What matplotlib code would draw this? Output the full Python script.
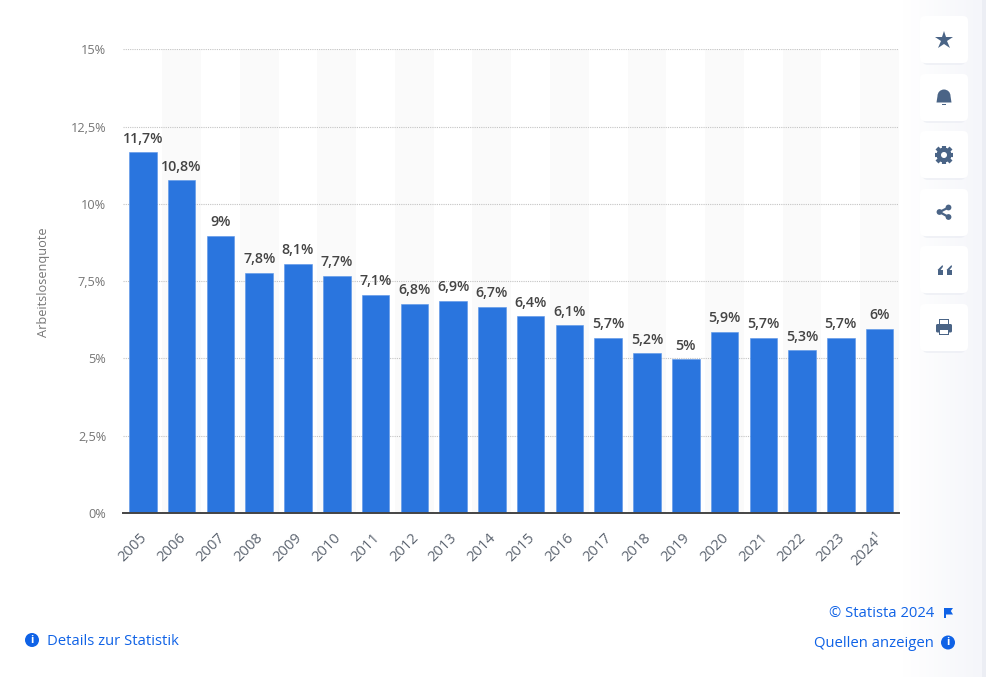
import numpy as np
import matplotlib
matplotlib.use("Agg")
import matplotlib.pyplot as plt
from matplotlib.patches import FancyBboxPatch, Circle, Rectangle, Polygon, Wedge
from matplotlib.transforms import ScaledTranslation

plt.rcParams['font.family'] = ['Open Sans', 'DejaVu Sans']

# data
years = ['2005', '2006', '2007', '2008', '2009', '2010', '2011', '2012', '2013', '2014',
         '2015', '2016', '2017', '2018', '2019', '2020', '2021', '2022', '2023', '2024¹']
quote = [11.7, 10.8, 9, 7.8, 8.1, 7.7, 7.1, 6.8, 6.9, 6.7,
         6.4, 6.1, 5.7, 5.2, 5, 5.9, 5.7, 5.3, 5.7, 6]
y_ticks = [0, 2.5, 5, 7.5, 10, 12.5, 15]

BLUE = '#2a75de'
LINK = '#0f62e6'
ICON = '#4a6486'
W, H = 987, 677


def de(v):
    return f'{v:g}'.replace('.', ',') + '%'


fig = plt.figure(figsize=(W / 100, H / 100), dpi=100, facecolor='white')

# background layer in pixel coordinates, for the side panel and footer
bg = fig.add_axes([0, 0, 1, 1], zorder=0)
grad = np.linspace(0, 1, 80).reshape(1, -1)
cmap = matplotlib.colors.LinearSegmentedColormap.from_list('p', ['#ffffff', '#f5f6fa'])
bg.imshow(grad, extent=[902, 982, H, 0], cmap=cmap, aspect='auto', zorder=1)
bg.add_patch(Rectangle((982, 0), 5, H, color='#eceef4', lw=0, zorder=1))
bg.set_xlim(0, W)
bg.set_ylim(H, 0)
bg.axis('off')

# main chart
ax = fig.add_axes([123.5 / W, (H - 513) / H, 775.5 / W, 463.6 / H], zorder=2)
ax.patch.set_alpha(0)
x = np.arange(len(years))
for i in x[1::2]:
    ax.axvspan(i - 0.5, i + 0.5, color='#fafafa', lw=0, zorder=0)
ax.yaxis.grid(True, linestyle=(0, (1, 1)), color='#c4c4c4', lw=0.8, zorder=1)
ax.set_axisbelow(True)
# the bars sit about a pixel under the grid in the original
bar_shift = ax.transData + ScaledTranslation(0, -1 / 100, fig.dpi_scale_trans)
ax.bar(x, quote, width=0.71, color=BLUE, edgecolor='#5b95e8', linewidth=0.4, zorder=2, transform=bar_shift)
for i, v in zip(x, quote):
    ax.annotate(de(v), (i, v), xytext=(0, 4), textcoords='offset points', ha='center', va='bottom',
                fontsize=10.3, fontweight='semibold', color='#444444', zorder=3)

ax.set_xlim(-0.5, len(years) - 0.5)
ax.set_ylim(0, 15)
ax.set_yticks(y_ticks)
ax.set_yticklabels([de(t) for t in y_ticks], fontsize=9.2, color='#767676')
ax.set_xticks(x)
ax.set_xticklabels([])
# tick labels placed by hand, they start a little left of the tick in the original
for i, year in zip(x, years):
    ax.annotate(year, (i, 0), xycoords=ax.get_xaxis_transform(), xytext=(-2.5, -12.5), textcoords='offset points',
                rotation=45, ha='right', va='top', rotation_mode='anchor', fontsize=10.6, color='#5c6470',
                annotation_clip=False)
ax.tick_params(axis='both', length=0)
ax.tick_params(axis='y', pad=12.5)
for s in ['top', 'right', 'left']:
    ax.spines[s].set_visible(False)
ax.spines['bottom'].set_color('#444444')
ax.spines['bottom'].set_linewidth(1.4)
ax.spines['bottom'].set_zorder(4)
ax.set_ylabel('Arbeitslosenquote', fontsize=9.2, color='#767676')
ax.yaxis.set_label_coords((50 - 123.5) / 775.5, 0.498)

# overlay for buttons, icons and links
ov = fig.add_axes([0, 0, 1, 1], zorder=3)
ov.set_xlim(0, W)
ov.set_ylim(H, 0)
ov.axis('off')

for top in [16, 74, 131, 189, 246, 304]:
    ov.add_patch(FancyBboxPatch((922, top + 4), 44, 45, boxstyle='round,pad=0,rounding_size=6',
                                fc='#eceef4', ec='none', alpha=0.7, zorder=1))
    ov.add_patch(FancyBboxPatch((920, top), 48, 47, boxstyle='round,pad=0,rounding_size=5',
                                fc='white', ec='none', zorder=2))

# star
ov.plot(944, 40, marker='*', ms=13.5, color=ICON, mew=0, zorder=3)
# bell
ov.add_patch(Wedge((944, 96), 6.5, 180, 360, fc=ICON, lw=0, zorder=3))
ov.add_patch(Polygon([(937.5, 96), (950.5, 96), (951.5, 102.5), (936.5, 102.5)], fc=ICON, lw=0, zorder=3))
ov.add_patch(Rectangle((942, 103.5), 4, 1.2, fc=ICON, lw=0, zorder=3))
# gear
ov.plot(944, 155, marker='8', ms=11.5, color=ICON, mew=0, zorder=3)
ov.plot(944, 155, marker='+', ms=12.5, color=ICON, mew=3, zorder=3)
ov.plot(944, 155, marker='x', ms=9.5, color=ICON, mew=3, zorder=3)
ov.add_patch(Circle((944, 155), 3, fc='white', lw=0, zorder=4))
# share
ov.plot([948.5, 939.5, 948.5], [207.5, 212, 217], color=ICON, lw=1.6, zorder=3)
for cx, cy in [(948.5, 207.5), (939.5, 212), (948.5, 217)]:
    ov.add_patch(Circle((cx, cy), 2.9, fc=ICON, lw=0, zorder=3))
# quotes
for qx in [937.5, 946.5]:
    ov.add_patch(Rectangle((qx, 269.5), 5.5, 5.5, fc=ICON, lw=0, zorder=3))
    ov.add_patch(Polygon([(qx, 270), (qx + 5, 265), (qx + 5.5, 266.8), (qx + 3, 270)], fc=ICON, lw=0, zorder=3))
# printer
ov.add_patch(FancyBboxPatch((936, 324), 16, 8.5, boxstyle='round,pad=0,rounding_size=1.5', fc=ICON, lw=0, zorder=3))
ov.add_patch(Rectangle((939, 319), 10, 5.5, fc=ICON, lw=0, zorder=3))
ov.add_patch(Rectangle((940.3, 320.3), 7.4, 3.4, fc='white', lw=0, zorder=4))
ov.add_patch(Rectangle((939, 329), 10, 6, fc=ICON, lw=0, zorder=4))
ov.add_patch(Rectangle((940.3, 330.3), 7.4, 3.6, fc='white', lw=0, zorder=5))


def info(cx, cy):
    ov.add_patch(Circle((cx, cy), 7, fc=LINK, lw=0, zorder=3))
    ov.text(cx, cy + 0.3, 'i', color='white', fontsize=8, fontweight='bold', ha='center', va='center', zorder=4)


info(32, 640)
info(948, 642.5)
ov.text(47, 641.5, 'Details zur Statistik', color=LINK, fontsize=10.75, va='center', ha='left')
ov.text(934, 643.5, 'Quellen anzeigen', color=LINK, fontsize=10.75, va='center', ha='right')
ov.text(934, 613.5, '© Statista 2024', color=LINK, fontsize=10.6, va='center', ha='right')
# flag
ov.add_patch(Rectangle((944, 607.5), 1.6, 10.5, fc=LINK, lw=0, zorder=3))
ov.add_patch(Polygon([(945, 608), (953, 608), (950.8, 611), (953, 614.5), (945, 614.5)], fc=LINK, lw=0, zorder=3))

fig.savefig('out.png', dpi=100, facecolor='white')
